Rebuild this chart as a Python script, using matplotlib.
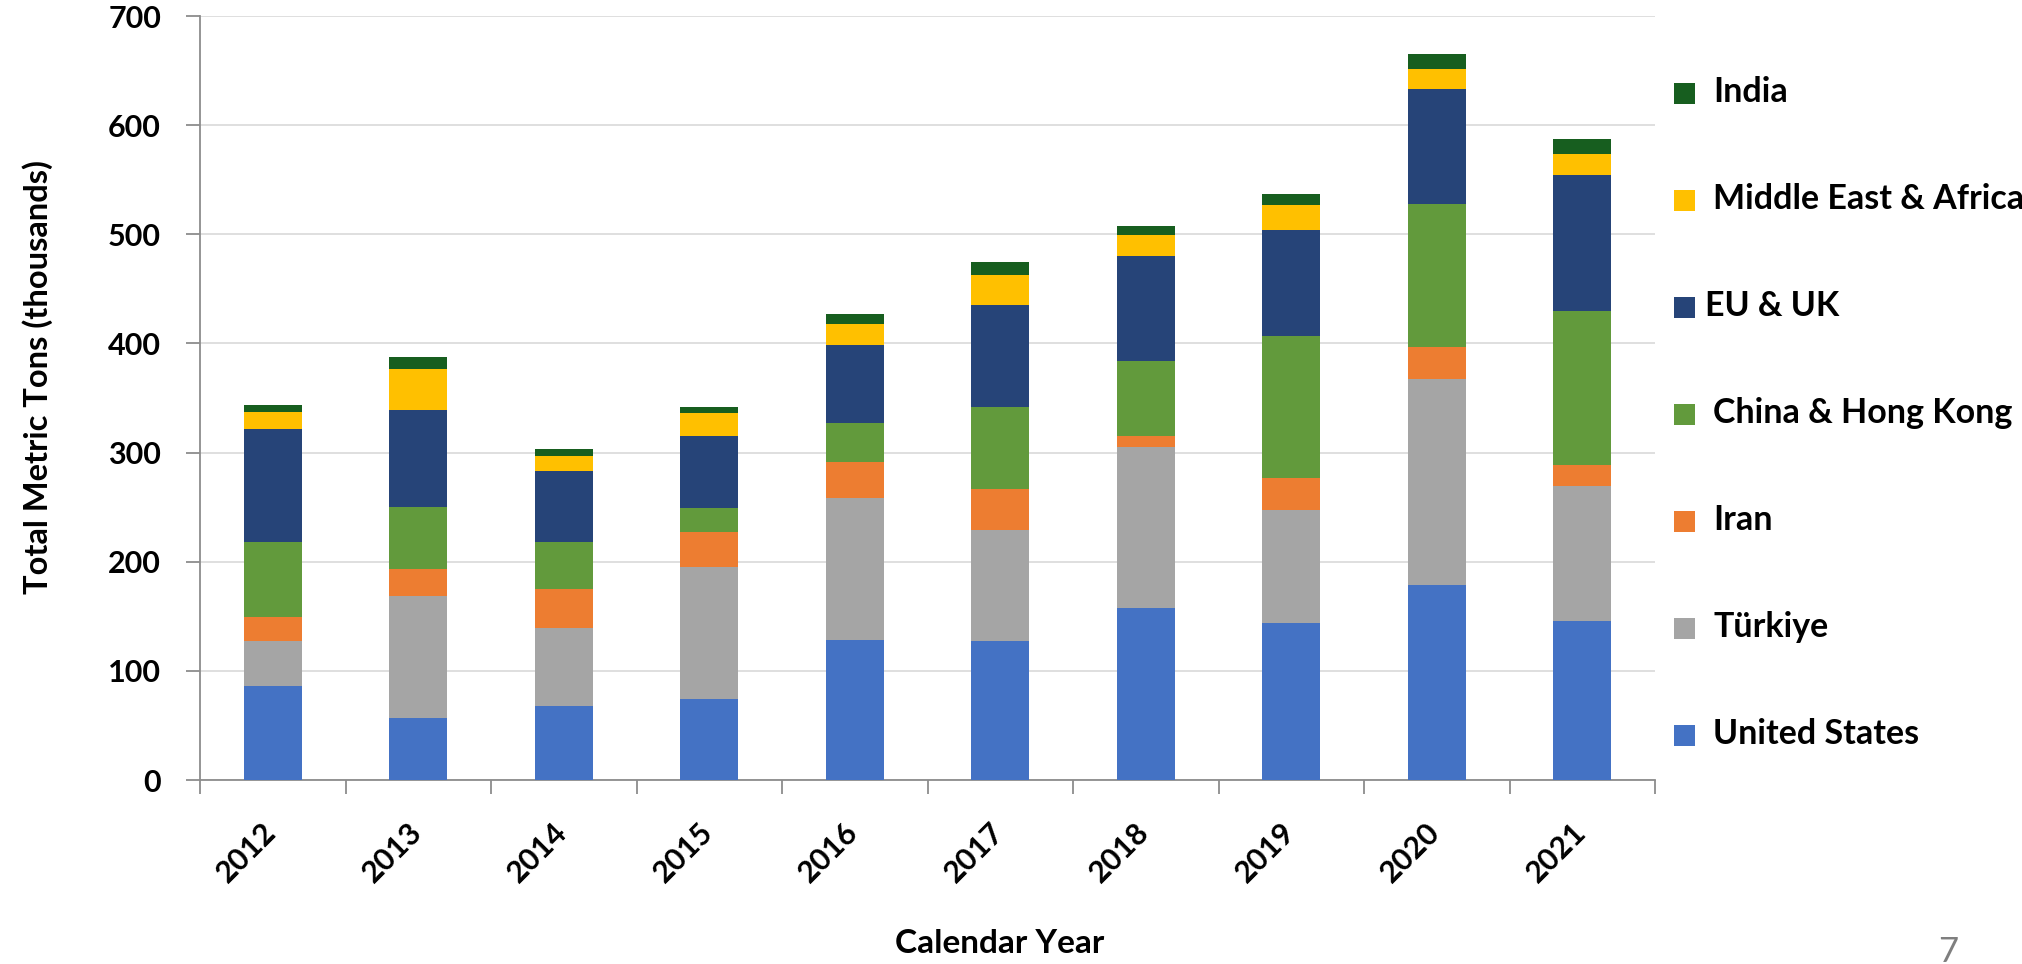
import matplotlib
matplotlib.use("Agg")
import matplotlib.pyplot as plt
import matplotlib.transforms as mtransforms
from matplotlib.patches import Rectangle
import numpy as np

years = ["2012", "2013", "2014", "2015", "2016", "2017", "2018", "2019", "2020", "2021"]
united_states = [86, 57, 68, 74, 128, 127, 158, 144, 179, 146]
turkiye = [41, 112, 71, 121, 130, 102, 147, 103, 188, 123]
iran = [22, 24, 36, 32, 33, 38, 10, 30, 30, 20]
china_hk = [69, 57, 43, 22, 36, 75, 69, 130, 131, 141]
eu_uk = [104, 89, 65, 66, 72, 93, 96, 97, 105, 124]
middle_east_africa = [15, 38, 14, 21, 19, 28, 19, 23, 18, 20]
india = [7, 11, 6, 6, 9, 12, 9, 10, 14, 13]

series_names = ["United States", "Türkiye", "Iran", "China & Hong Kong",
                "EU & UK", "Middle East & Africa", "India"]
series_values = [united_states, turkiye, iran, china_hk, eu_uk, middle_east_africa, india]
series_colors = ["#4472C4", "#A5A5A5", "#ED7D31", "#629A3C", "#264478", "#FFC000", "#175E1F"]

FONT = ["Lato", "DejaVu Sans"]

W, H = 2022, 964
fig = plt.figure(figsize=(W / 100, H / 100), dpi=100)
ax = fig.add_axes([200 / W, 1 - 780 / H, (1655 - 200) / W, (780 - 16) / H])

x = np.arange(len(years))
bottom = np.zeros(len(years))
for name, vals, col in zip(series_names, series_values, series_colors):
    ax.bar(x, vals, width=0.4, bottom=bottom, color=col, label=name, zorder=3)
    bottom += np.array(vals)

ax.set_xlim(-0.5, len(years) - 0.5)
ax.set_ylim(0, 700)
ax.set_yticks(np.arange(0, 701, 100))
ax.grid(axis="y", color="#d9d9d9", lw=1.2, zorder=0)
ax.set_axisbelow(True)

for s in ["top", "right"]:
    ax.spines[s].set_visible(False)
for s in ["left", "bottom"]:
    ax.spines[s].set_color("#8c8c8c")
    ax.spines[s].set_linewidth(1.3)

# x: labels on categories, tick marks at boundaries
ax.set_xticks(x)
ax.set_xticklabels(years, rotation=45, ha="right", va="top",
                   fontfamily=FONT, fontweight="bold", fontsize=22)
ax.tick_params(axis="x", which="major", length=0, pad=27)
ax.set_xticks(np.arange(-0.5, len(years), 1.0), minor=True)
ax.tick_params(axis="x", which="minor", length=10, width=1.3, color="#8c8c8c", direction="out")
offset = mtransforms.ScaledTranslation(9 / 100, 0, fig.dpi_scale_trans)
for lab in ax.get_xticklabels():
    lab.set_transform(lab.get_transform() + offset)

ax.tick_params(axis="y", length=10, width=1.3, color="#8c8c8c", pad=18)
for lab in ax.get_yticklabels():
    lab.set_fontfamily(FONT)
    lab.set_fontweight("bold")
    lab.set_fontsize(22)

fig.text(38 / W, 1 - 377 / H, "Total Metric Tons (thousands)", rotation=90,
         ha="center", va="center", fontfamily=FONT, fontweight="bold", fontsize=23.5)
fig.text(1000 / W, 1 - 953 / H, "Calendar Year", ha="center", va="baseline",
         fontfamily=FONT, fontweight="bold", fontsize=24)
fig.text(1948 / W, 1 - 962 / H, "7", ha="center", va="baseline",
         color="#7f7f7f", fontfamily=FONT, fontsize=25)

# legend (bottom to top: United States ... India)
legend_y = [735.5, 628.5, 521.5, 414.5, 307.5, 200.5, 93.5]
for name, col, yc in zip(series_names, series_colors, legend_y):
    fig.add_artist(Rectangle((1674 / W, 1 - (yc + 10.5) / H), 21 / W, 21 / H,
                             transform=fig.transFigure, facecolor=col, edgecolor="none"))
    tx = 1705 if name == "EU & UK" else 1713
    fig.text(tx / W, 1 - (yc + 8.5) / H, name, ha="left", va="baseline",
             fontfamily=FONT, fontweight="bold", fontsize=24.5)

fig.savefig("out.png", dpi=100)
